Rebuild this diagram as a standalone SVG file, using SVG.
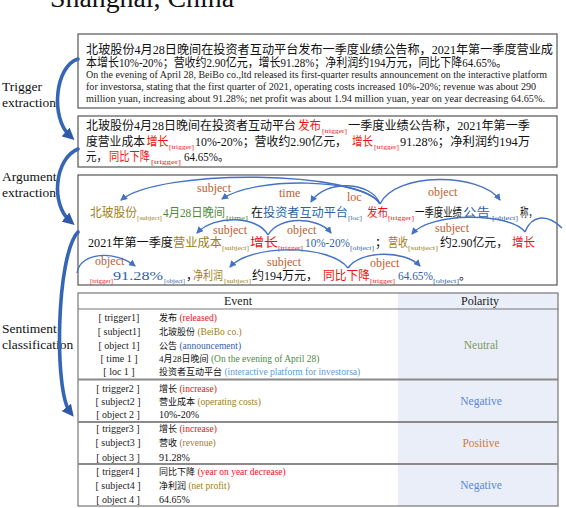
<svg xmlns="http://www.w3.org/2000/svg" width="566" height="508" viewBox="0 0 566 508">
<style>
text{font-family:"Liberation Serif","Noto Sans CJK SC",serif;}
.cn{font-size:12px;}
.num{font-size:13.5px;}
.sub{font-size:7px;}
.lab{font-size:12px;fill:#c0602a;}
.side{font-size:13.5px;fill:#111;}
.en{font-size:10px;fill:#222;}
.k{fill:#111;}
.r{fill:#ee1111;}
.g{fill:#a07e1a;}
.gr{fill:#4e8a3e;}
.b{fill:#2f5fa8;}
.lb{fill:#5b9bd5;}
.box{fill:#fff;stroke:#555;stroke-width:1.2;}
.arc{fill:none;stroke:#4472c4;stroke-width:1.4;}
.big{fill:none;stroke:#3565b5;stroke-width:3.6;stroke-linecap:round;}
.tl{font-size:10px;fill:#222;}
.sep{stroke:#8a8a8a;stroke-width:1.8;}
</style>
<defs>
<marker id="ah" markerUnits="userSpaceOnUse" markerWidth="7" markerHeight="7" refX="6" refY="3.5" orient="auto"><path d="M0,0 L7,3.5 L0,7 z" fill="#4472c4"/></marker>
<marker id="bh" markerUnits="userSpaceOnUse" markerWidth="12" markerHeight="12" refX="6" refY="6" orient="auto"><path d="M0,0 L12,6 L0,12 z" fill="#2e5aa8"/></marker>
</defs>

<text x="50" y="7" font-size="27" fill="#111" textLength="184" lengthAdjust="spacingAndGlyphs">Shanghai, China</text>

<g id="labels">
<text class="side" x="2" y="91">Trigger</text>
<text class="side" x="2" y="107">extraction</text>
<text class="side" x="2" y="181">Argument</text>
<text class="side" x="2" y="197">extraction</text>
<text class="side" x="2" y="333">Sentiment</text>
<text class="side" x="2" y="349">classification</text>
</g>

<g id="box1">
<rect class="box" x="78" y="34" width="479" height="74"/>
<text class="k" x="86" y="54" font-size="12.5" textLength="467" lengthAdjust="spacingAndGlyphs">北玻股份4月28日晚间在投资者互动平台发布一季度业绩公告称，2021年第一季度营业成</text>
<text class="k" x="86" y="66.5" font-size="12.5" textLength="421" lengthAdjust="spacingAndGlyphs">本增长10%-20%；营收约2.90亿元，增长91.28%；净利润约194万元，同比下降64.65%。</text>
<text class="en" x="86" y="78" textLength="461" lengthAdjust="spacingAndGlyphs">On the evening of April 28, BeiBo co.,ltd released its first-quarter results announcement on the interactive platform</text>
<text class="en" x="86" y="90" textLength="450" lengthAdjust="spacingAndGlyphs">for investorsa, stating that the first quarter of 2021,  operating costs increased 10%-20%; revenue was about 290</text>
<text class="en" x="86" y="102" textLength="459" lengthAdjust="spacingAndGlyphs">million yuan,  increasing about  91.28%; net profit was about 1.94 million yuan, year on  year decreasing 64.65%.</text>
</g>

<g id="box2">
<rect class="box" x="78" y="116" width="479" height="51"/>
<text class="cn k" x="86" y="130" textLength="210" lengthAdjust="spacingAndGlyphs">北玻股份4月28日晚间在投资者互动平台</text>
<text class="cn r" x="298" y="130" textLength="23" lengthAdjust="spacingAndGlyphs">发布</text>
<text class="sub r" x="322" y="133" textLength="25" lengthAdjust="spacingAndGlyphs">[trigger]</text>
<text class="cn k" x="348" y="130" textLength="182" lengthAdjust="spacingAndGlyphs">一季度业绩公告称，2021年第一季</text>
<text class="cn k" x="86" y="145.5" textLength="59" lengthAdjust="spacingAndGlyphs">度营业成本</text>
<text class="cn r" x="146.5" y="145.5" textLength="22" lengthAdjust="spacingAndGlyphs">增长</text>
<text class="sub r" x="169" y="148.5" textLength="25" lengthAdjust="spacingAndGlyphs">[trigger]</text>
<text class="cn k" x="195" y="145.5" textLength="152" lengthAdjust="spacingAndGlyphs">10%-20%；营收约2.90亿元，</text>
<text class="cn r" x="352" y="145.5" textLength="21" lengthAdjust="spacingAndGlyphs">增长</text>
<text class="sub r" x="374" y="148.5" textLength="25" lengthAdjust="spacingAndGlyphs">[trigger]</text>
<text class="cn k" x="400" y="145.5" textLength="130" lengthAdjust="spacingAndGlyphs">91.28%；净利润约194万</text>
<text class="cn k" x="86" y="160.5" textLength="21" lengthAdjust="spacingAndGlyphs">元，</text>
<text class="cn r" x="109" y="160.5" textLength="41" lengthAdjust="spacingAndGlyphs">同比下降</text>
<text class="sub r" x="151" y="163.5" textLength="30" lengthAdjust="spacingAndGlyphs">[trigger]</text>
<text class="cn k" x="184" y="160.5" textLength="45" lengthAdjust="spacingAndGlyphs">64.65%。</text>
</g>

<g id="box3">
<rect class="box" x="78" y="175" width="479" height="110"/>
<text class="cn g" x="90" y="217" textLength="47" lengthAdjust="spacingAndGlyphs">北玻股份</text>
<text class="sub g" x="137" y="220" textLength="25" lengthAdjust="spacingAndGlyphs">[subject]</text>
<text class="cn gr" x="163" y="217" textLength="62" lengthAdjust="spacingAndGlyphs">4月28日晚间</text>
<text class="sub gr" x="226" y="220" textLength="22" lengthAdjust="spacingAndGlyphs">[time]</text>
<text class="cn k" x="251" y="217">在</text>
<text class="cn b" x="263" y="217" textLength="85" lengthAdjust="spacingAndGlyphs">投资者互动平台</text>
<text class="sub b" x="348" y="220" textLength="14" lengthAdjust="spacingAndGlyphs">[loc]</text>
<text class="cn r" x="367" y="217" textLength="21" lengthAdjust="spacingAndGlyphs">发布</text>
<text class="sub r" x="388" y="220" textLength="26" lengthAdjust="spacingAndGlyphs">[trigger]</text>
<text class="cn k" x="415" y="217" textLength="47" lengthAdjust="spacingAndGlyphs">一季度业绩</text>
<text class="cn b" x="463" y="217" textLength="27" lengthAdjust="spacingAndGlyphs">公告</text>
<text class="sub b" x="492" y="220" textLength="26" lengthAdjust="spacingAndGlyphs">[object]</text>
<text class="cn k" x="520" y="217" textLength="17" lengthAdjust="spacingAndGlyphs">称，</text>

<text class="cn k" x="88" y="247" textLength="85" lengthAdjust="spacingAndGlyphs">2021年第一季度</text>
<text class="cn g" x="173" y="247" textLength="49" lengthAdjust="spacingAndGlyphs">营业成本</text>
<text class="sub g" x="222" y="250" textLength="27" lengthAdjust="spacingAndGlyphs">[subject]</text>
<text class="cn r" x="250" y="247" textLength="28" lengthAdjust="spacingAndGlyphs">增长</text>
<text class="sub r" x="278" y="250" textLength="25" lengthAdjust="spacingAndGlyphs">[trigger]</text>
<text class="num b" x="305" y="247" textLength="45" lengthAdjust="spacingAndGlyphs">10%-20%</text>
<text class="sub b" x="350" y="250" textLength="24" lengthAdjust="spacingAndGlyphs">[object]</text>
<text class="cn k" x="375" y="247">；</text>
<text class="cn g" x="388" y="247" textLength="20" lengthAdjust="spacingAndGlyphs">营收</text>
<text class="sub g" x="408" y="250" textLength="30" lengthAdjust="spacingAndGlyphs">[subject]</text>
<text class="cn k" x="440" y="247" textLength="68" lengthAdjust="spacingAndGlyphs">约2.90亿元，</text>
<text class="cn r" x="512" y="247" textLength="23" lengthAdjust="spacingAndGlyphs">增长</text>

<text class="sub r" x="90" y="283" textLength="23" lengthAdjust="spacingAndGlyphs">[trigger]</text>
<text class="num b" x="113" y="280" textLength="50" lengthAdjust="spacingAndGlyphs">91.28%</text>
<text class="sub b" x="164" y="283" textLength="21" lengthAdjust="spacingAndGlyphs">[object]</text>
<text class="cn k" x="186" y="280">，</text>
<text class="cn g" x="193" y="280" textLength="30" lengthAdjust="spacingAndGlyphs">净利润</text>
<text class="sub g" x="224" y="283" textLength="27" lengthAdjust="spacingAndGlyphs">[subject]</text>
<text class="cn k" x="252" y="280" textLength="66" lengthAdjust="spacingAndGlyphs">约194万元，</text>
<text class="cn r" x="323" y="280" textLength="47" lengthAdjust="spacingAndGlyphs">同比下降</text>
<text class="sub r" x="370" y="283" textLength="25" lengthAdjust="spacingAndGlyphs">[trigger]</text>
<text class="num b" x="398" y="280" textLength="35" lengthAdjust="spacingAndGlyphs">64.65%</text>
<text class="sub b" x="433" y="283" textLength="26" lengthAdjust="spacingAndGlyphs">[object]</text>
<text class="cn k" x="459" y="280">。</text>

<text class="lab" x="197" y="192">subject</text>
<text class="lab" x="279" y="197">time</text>
<text class="lab" x="347" y="201">loc</text>
<text class="lab" x="428" y="196">object</text>
<text class="lab" x="213" y="234">subject</text>
<text class="lab" x="287" y="234">object</text>
<text class="lab" x="435" y="232">subject</text>
<text class="lab" x="95" y="265">object</text>
<text class="lab" x="267" y="266">subject</text>
<text class="lab" x="370" y="267">object</text>
</g>

<g id="table">
<rect x="78" y="293" width="480" height="213" fill="#fff"/>
<rect x="398" y="293" width="160" height="213" fill="#e9eef8"/>
<rect x="78" y="293" width="480" height="213" fill="none" stroke="#777" stroke-width="1.2"/>
<line x1="78" y1="309" x2="558" y2="309" stroke="#777" stroke-width="1.2"/>
<line class="sep" x1="78" y1="379.5" x2="558" y2="379.5"/>
<line class="sep" x1="78" y1="422" x2="558" y2="422"/>
<line class="sep" x1="78" y1="464" x2="558" y2="464"/>
<text x="238" y="305" font-size="12" fill="#222" text-anchor="middle">Event</text>
<text x="480" y="305" font-size="12" fill="#222" text-anchor="middle">Polarity</text>

<g text-anchor="middle">
<text class="tl" x="119" y="320.5">[ trigger1]</text>
<text class="tl" x="119" y="335">[ subject1]</text>
<text class="tl" x="119" y="348.5">[ object 1]</text>
<text class="tl" x="119" y="361.5">[  time 1 ]</text>
<text class="tl" x="119" y="375">[  loc 1 ]</text>
<text class="tl" x="118" y="391.5">[ trigger2 ]</text>
<text class="tl" x="118" y="404.5">[ subject2 ]</text>
<text class="tl" x="118" y="417.5">[ object 2 ]</text>
<text class="tl" x="118" y="431.5">[ trigger3 ]</text>
<text class="tl" x="118" y="446">[ subject3 ]</text>
<text class="tl" x="118" y="460.5">[ object 3 ]</text>
<text class="tl" x="118" y="475">[ trigger4 ]</text>
<text class="tl" x="118" y="488.5">[ subject4 ]</text>
<text class="tl" x="118" y="502.5">[ object 4 ]</text>
</g>

<text x="159" y="320.5" font-size="9.5"><tspan class="k" font-size="9">发布</tspan><tspan class="r"> (released)</tspan></text>
<text x="159" y="335" font-size="9.5"><tspan class="k" font-size="9">北玻股份</tspan><tspan class="g"> (BeiBo co.)</tspan></text>
<text x="159" y="348.5" font-size="9.5"><tspan class="k" font-size="9">公告</tspan><tspan class="b"> (announcement)</tspan></text>
<text x="159" y="361.5" font-size="9.5"><tspan class="k" font-size="9">4月28日晚间</tspan><tspan class="gr"> (On the evening of April 28)</tspan></text>
<text x="159" y="375" font-size="9.5"><tspan class="k" font-size="9">投资者互动平台</tspan><tspan class="lb"> (interactive platform for investorsa)</tspan></text>
<text x="159" y="391.5" font-size="9.5"><tspan class="k" font-size="9">增长</tspan><tspan class="r"> (increase)</tspan></text>
<text x="159" y="404.5" font-size="9.5"><tspan class="k" font-size="9">营业成本</tspan><tspan class="g"> (operating costs)</tspan></text>
<text x="159" y="417.5" font-size="10" class="k">10%-20%</text>
<text x="159" y="431.5" font-size="9.5"><tspan class="k" font-size="9">增长</tspan><tspan class="r"> (increase)</tspan></text>
<text x="159" y="446" font-size="9.5"><tspan class="k" font-size="9">营收</tspan><tspan class="g"> (revenue)</tspan></text>
<text x="159" y="460.5" font-size="10" class="k">91.28%</text>
<text x="159" y="475" font-size="9.5"><tspan class="k" font-size="9">同比下降</tspan><tspan class="r"> (year on  year decrease)</tspan></text>
<text x="159" y="488.5" font-size="9.5"><tspan class="k" font-size="9">净利润</tspan><tspan class="g"> (net profit)</tspan></text>
<text x="159" y="502.5" font-size="10" class="k">64.65%</text>

<text x="481" y="349" font-size="11.5" fill="#7f9a5a" text-anchor="middle">Neutral</text>
<text x="481" y="405" font-size="11.5" fill="#5a87d8" text-anchor="middle">Negative</text>
<text x="481" y="447" font-size="11.5" fill="#d27a3e" text-anchor="middle">Positive</text>
<text x="481" y="489" font-size="11.5" fill="#5a87d8" text-anchor="middle">Negative</text>
</g>

<g id="connectors">
<path class="arc" marker-end="url(#ah)" d="M380,204 C360,170 160,168 121,200"/>
<path class="arc" marker-end="url(#ah)" d="M380,204 C365,178 255,176 222,199"/>
<path class="arc" marker-end="url(#ah)" d="M380,204 C372,181 325,179 311,202"/>
<path class="arc" marker-end="url(#ah)" d="M380,204 C395,172 480,172 500,200"/>
<path class="arc" marker-end="url(#ah)" d="M268,235 C258,216 215,214 197,233"/>
<path class="arc" marker-end="url(#ah)" d="M268,235 C278,216 318,216 331,233"/>
<path class="arc" marker-end="url(#ah)" d="M525,232 C510,212 430,212 412,234"/>
<path class="arc" d="M525,232 C532,214 548,214 562,228"/>
<path class="arc" marker-end="url(#ah)" d="M77,273 C80,252 115,250 135,266"/>
<path class="arc" marker-end="url(#ah)" d="M348,268 C330,244 250,244 230,267"/>
<path class="arc" marker-end="url(#ah)" d="M348,268 C360,250 405,250 420,266"/>

<path class="big" marker-end="url(#bh)" d="M78,59 C55,66 50,118 70,136"/>
<path class="big" marker-end="url(#bh)" d="M78,149 C55,158 50,204 70,221"/>
<path class="big" marker-end="url(#bh)" d="M78,232 C56,255 54,392 70,412"/>
</g>
</svg>
